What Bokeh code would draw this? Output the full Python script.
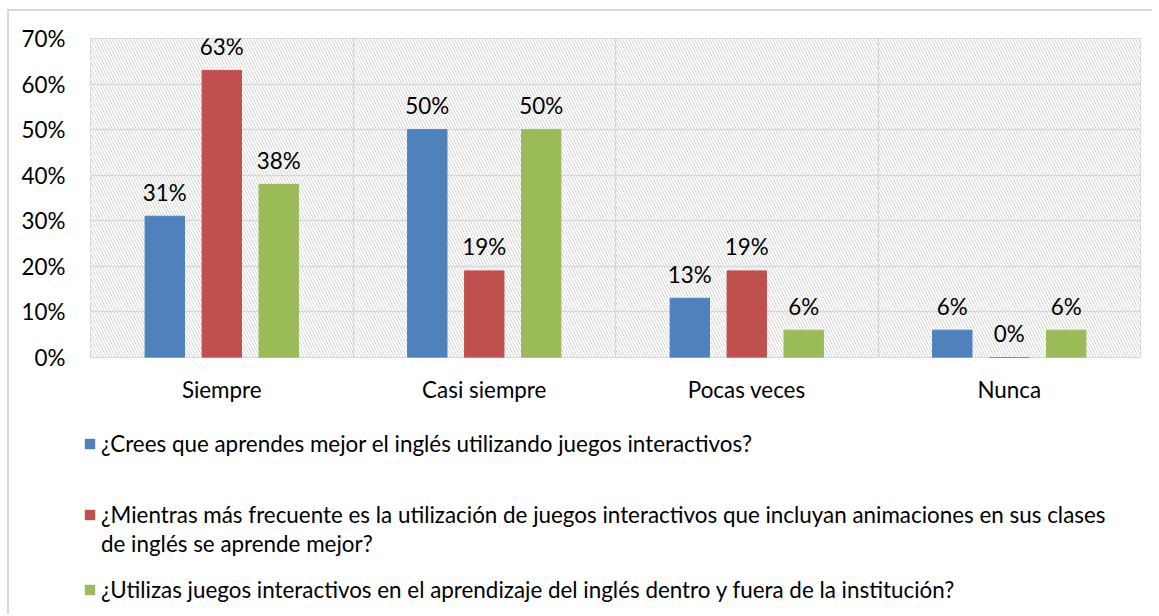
from bokeh.plotting import figure
from bokeh.models import (FactorRange, Range1d, FixedTicker, PrintfTickFormatter,
                          BoxAnnotation, Legend, LegendItem, ColumnDataSource)
from bokeh.transform import dodge
from bokeh.core.properties import value
from bokeh.embed import file_html
from bokeh.resources import INLINE

categories = ["Siempre", "Casi siempre", "Pocas veces", "Nunca"]
legend_lines = [
    "¿Crees que aprendes mejor el inglés utilizando juegos interactivos?",
    "¿Mientras más frecuente es la utilización de juegos interactivos que incluyan animaciones en sus clases",
    "de inglés se aprende mejor?",
    "¿Utilizas juegos interactivos en el aprendizaje del inglés dentro y fuera de la institución?",
]
serie1 = [31, 50, 13, 6]
serie2 = [63, 19, 19, 0]
serie3 = [38, 50, 6, 6]
colors = ["#4F81BD", "#C0504D", "#9BBB59"]
y_ticks = [0, 10, 20, 30, 40, 50, 60, 70]

FONT = "Lato"
FS = "22.4px"
BORDER = "2px solid #d9d9d9"

# ---------------- main chart ----------------
p = figure(x_range=FactorRange(*categories, range_padding=0), y_range=Range1d(0, 70),
           width=1145, height=399, output_backend="svg", toolbar_location=None,
           min_border_left=81, min_border_top=27, min_border_right=14, min_border_bottom=53)
p.x_range.factor_padding = 0
p.styles = {"border-top": BORDER, "border-left": BORDER,
            "margin-left": "7px", "margin-top": "9px"}

p.outline_line_color = "#d9d9d9"
p.outline_line_width = 1
p.background_fill_color = "white"

# hatched plot-area background
p.add_layout(BoxAnnotation(fill_alpha=0, line_color=None, hatch_pattern="\\",
                           hatch_color="#d6d6d6", hatch_scale=6, hatch_weight=1,
                           level="underlay"))

p.ygrid.ticker = FixedTicker(ticks=y_ticks)
p.ygrid.grid_line_color = "#d9d9d9"
p.ygrid.grid_line_width = 1.5
p.xgrid.ticker = FixedTicker(ticks=[1, 2, 3])
p.xgrid.grid_line_color = "#d9d9d9"
p.xgrid.grid_line_width = 1.5

p.yaxis.ticker = FixedTicker(ticks=y_ticks)
p.yaxis.formatter = PrintfTickFormatter(format="%d%%")
for ax in (p.xaxis[0], p.yaxis[0]):
    ax.axis_line_color = None
    ax.major_tick_line_color = None
    ax.minor_tick_line_color = None
    ax.major_label_text_font = FONT
    ax.major_label_text_font_size = FS
    ax.major_label_text_color = "#000000"
p.yaxis.major_label_standoff = 19
p.xaxis.major_label_standoff = 12

src = ColumnDataSource(dict(cat=categories, s1=serie1, s2=serie2, s3=serie3,
                            l1=[f"{v}%" for v in serie1], l2=[f"{v}%" for v in serie2],
                            l3=[f"{v}%" for v in serie3]))

offsets = [-0.217, 0.0, 0.217]
for i, (key, col) in enumerate(zip(["s1", "s2", "s3"], colors)):
    p.vbar(x=dodge("cat", offsets[i], range=p.x_range), top=key, width=0.15,
           source=src, fill_color=col, line_color=col)
    p.text(x=dodge("cat", offsets[i], range=p.x_range), y=key, text="l" + key[1],
           source=src, text_align="center", text_baseline="alphabetic", y_offset=-24,
           text_font=value(FONT), text_font_size=FS, text_color="#000000")

# ---------------- legend panel (separate root, not frame-aligned) ----------------
lp = figure(width=1145, height=206, output_backend="svg", toolbar_location=None,
            x_range=Range1d(0, 1), y_range=Range1d(0, 1),
            x_axis_location=None, y_axis_location=None,
            min_border_left=0, min_border_right=0, min_border_top=0, min_border_bottom=0)
lp.styles = {"border-left": BORDER, "margin-left": "7px"}
lp.grid.visible = False
lp.outline_line_color = None

# zero-size swatch carriers (only their legend glyphs are visible)
swatch = ColumnDataSource(dict(x=[0], top=[0]))
lr = [lp.vbar(x="x", top="top", width=0, source=swatch, fill_color=c, line_color=None)
      for c in colors]
blank = lp.vbar(x="x", top="top", width=0, source=swatch, fill_alpha=0, line_alpha=0)

legend_specs = [
    (legend_lines[0], lr[0], 157),
    (legend_lines[1], lr[1], 86),
    (legend_lines[2], blank, 57),
    (legend_lines[3], lr[2], 11),
]
for label, r, yloc in legend_specs:
    lg = Legend(items=[LegendItem(label=label, renderers=[r])],
                location=(74, yloc), orientation="vertical",
                label_text_font=FONT, label_text_font_size=FS, label_text_color="#000000",
                glyph_width=13, glyph_height=13,
                label_standoff=5, border_line_color=None, background_fill_alpha=0,
                padding=0, margin=0, label_height=28)
    lp.add_layout(lg, "center")

open("out.html", "w").write(file_html([p, lp], INLINE))
